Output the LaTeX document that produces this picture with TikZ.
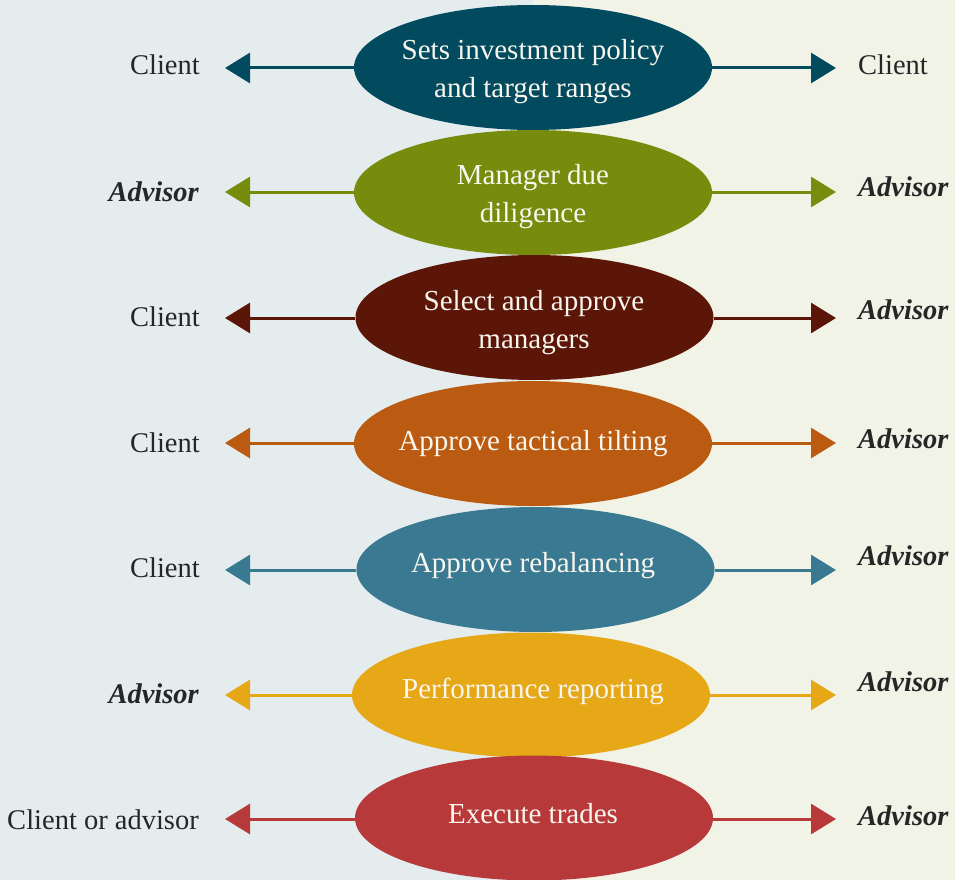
\documentclass[tikz,border=0pt]{standalone}
\usepackage{fontspec}
\setmainfont{Liberation Serif}
\usetikzlibrary{arrows.meta,shapes.geometric}
\definecolor{bgL}{HTML}{E4ECEE}
\definecolor{bgR}{HTML}{F1F3E7}
\definecolor{cA}{HTML}{024A5E}
\definecolor{cB}{HTML}{778C0C}
\definecolor{cC}{HTML}{5C1608}
\definecolor{cD}{HTML}{BA5B11}
\definecolor{cE}{HTML}{397A92}
\definecolor{cF}{HTML}{E6A817}
\definecolor{cG}{HTML}{B7393A}
\definecolor{etxt}{HTML}{F8F6EE}
\definecolor{ltxt}{HTML}{262626}
\begin{document}
\begin{tikzpicture}[x=1pt,y=-1pt,
  ell/.style={ellipse, draw=none, fill=#1, minimum width=358pt, minimum height=125pt, inner sep=0pt},
  etext/.style={anchor=base, text=etxt, font=\fontsize{29}{38}\selectfont, align=center, inner sep=0pt},
  lablft/.style={anchor=base east, text=ltxt, font=\fontsize{28.5}{38}\selectfont, inner sep=0pt},
  labrgt/.style={anchor=base west, text=ltxt, font=\fontsize{28.5}{38}\selectfont, inner sep=0pt},
  adv/.style={font=\fontsize{28.5}{38}\selectfont\bfseries\itshape},
  arr/.style={draw=#1, line width=3pt, -{Triangle[length=25pt,width=30pt]}}
]
\useasboundingbox (0,0) rectangle (955,880);
\fill[bgL] (0,0) rectangle (533,880);
\fill[bgR] (533,0) rectangle (955,880);

% ellipses
\node[ell=cA] (e1) at (533,67.5) {};
\node[ell=cB] (e2) at (533,192.5) {};
\node[ell=cC] (e3) at (534.5,317.5) {};
\node[ell=cD] (e4) at (533,443.5) {};
\node[ell=cE] (e5) at (535.5,569.5) {};
\node[ell=cF] (e6) at (531,695) {};
\node[ell=cG] (e7) at (534,818) {};

% ellipse texts (base anchor = last line baseline)
\node[etext] (t1) at (533,98) {Sets investment policy\\and target ranges};
\node[etext] (t2) at (533,222) {Manager due\\diligence};
\node[etext] (t3) at (534,348) {Select and approve\\managers};
\node[etext] (t4) at (533,450) {Approve tactical tilting};
\node[etext] (t5) at (533,572) {Approve rebalancing};
\node[etext] (t6) at (533,698) {Performance reporting};
\node[etext] (t7) at (533,823) {Execute trades};

% left labels
\node[lablft] (l1) at (200,75) {Client};
\node[lablft,adv] (l2) at (199,201) {Advisor};
\node[lablft] (l3) at (200,326) {Client};
\node[lablft] (l4) at (200,452) {Client};
\node[lablft] (l5) at (200,577) {Client};
\node[lablft,adv] (l6) at (199,703) {Advisor};
\node[lablft] (l7) at (199,829) {Client or advisor};

% right labels
\node[labrgt] (r1) at (858,75) {Client};
\node[labrgt,adv] (r2) at (858,196) {Advisor};
\node[labrgt,adv] (r3) at (858,319) {Advisor};
\node[labrgt,adv] (r4) at (858,448) {Advisor};
\node[labrgt,adv] (r5) at (858,565) {Advisor};
\node[labrgt,adv] (r6) at (858,691) {Advisor};
\node[labrgt,adv] (r7) at (858,825) {Advisor};

% arrow tips
\coordinate (pl1) at (225,68);   \coordinate (pr1) at (836,68);
\coordinate (pl2) at (225,192);  \coordinate (pr2) at (836,192);
\coordinate (pl3) at (225,318);  \coordinate (pr3) at (836,318);
\coordinate (pl4) at (225,443);  \coordinate (pr4) at (836,443);
\coordinate (pl5) at (225,570);  \coordinate (pr5) at (836,570);
\coordinate (pl6) at (225,695);  \coordinate (pr6) at (836,695);
\coordinate (pl7) at (225,819);  \coordinate (pr7) at (836,819);

\draw[arr=cA] (e1.west |- pl1) -- (pl1);  \draw[arr=cA] (e1.east |- pr1) -- (pr1);
\draw[arr=cB] (e2.west |- pl2) -- (pl2);  \draw[arr=cB] (e2.east |- pr2) -- (pr2);
\draw[arr=cC] (e3.west |- pl3) -- (pl3);  \draw[arr=cC] (e3.east |- pr3) -- (pr3);
\draw[arr=cD] (e4.west |- pl4) -- (pl4);  \draw[arr=cD] (e4.east |- pr4) -- (pr4);
\draw[arr=cE] (e5.west |- pl5) -- (pl5);  \draw[arr=cE] (e5.east |- pr5) -- (pr5);
\draw[arr=cF] (e6.west |- pl6) -- (pl6);  \draw[arr=cF] (e6.east |- pr6) -- (pr6);
\draw[arr=cG] (e7.west |- pl7) -- (pl7);  \draw[arr=cG] (e7.east |- pr7) -- (pr7);
\end{tikzpicture}
\end{document}
